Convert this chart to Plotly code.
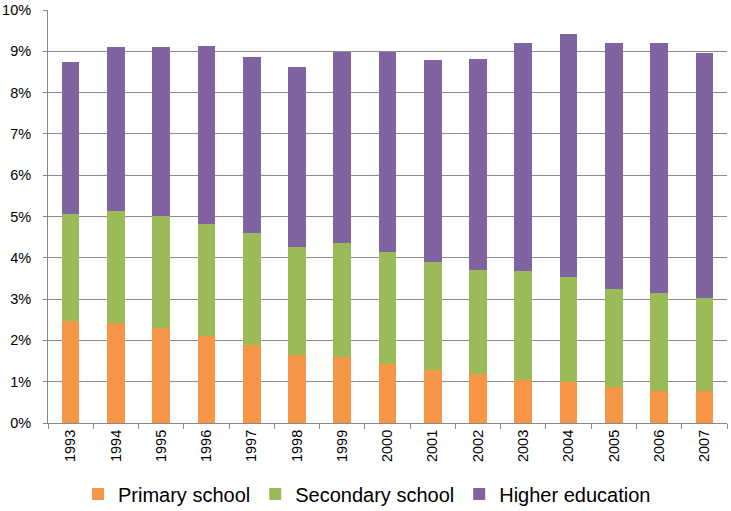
import plotly.graph_objects as go

years = ["1993", "1994", "1995", "1996", "1997", "1998", "1999", "2000",
         "2001", "2002", "2003", "2004", "2005", "2006", "2007"]
primary = [2.46, 2.42, 2.29, 2.11, 1.88, 1.64, 1.60, 1.44, 1.28, 1.18, 1.05, 0.99, 0.87, 0.78, 0.77]
secondary = [2.60, 2.72, 2.73, 2.72, 2.72, 2.63, 2.77, 2.71, 2.61, 2.53, 2.62, 2.54, 2.38, 2.37, 2.25]
higher = [3.68, 3.96, 4.08, 4.29, 4.27, 4.36, 4.62, 4.84, 4.91, 5.10, 5.52, 5.89, 5.96, 6.04, 5.94]

series = [("Primary school", primary, "#F79646"),
          ("Secondary school", secondary, "#9BBB59"),
          ("Higher education", higher, "#8064A2")]

fig = go.Figure()
for name, vals, col in series:
    fig.add_trace(go.Bar(x=years, y=vals, name=name, marker_color=col,
                         marker_line_width=0))

font = "Liberation Sans, Arial, sans-serif"
fig.update_layout(
    barmode="stack",
    bargap=0.61,
    width=731, height=511,
    margin=dict(l=48, r=4, t=10, b=88, autoexpand=False),
    paper_bgcolor="white", plot_bgcolor="white",
    font=dict(family=font, color="#000000"),
    legend=dict(orientation="h", xref="container", yref="container",
                x=0.502, xanchor="center", y=0.0333, yanchor="middle",
                font=dict(size=20, family=font), itemwidth=30, traceorder="normal"),
)
fig.update_xaxes(
    type="category", tickangle=-90, tickfont=dict(size=14.5),
    showline=True, linecolor="#888888", linewidth=1,
    ticks="outside", tickson="boundaries", ticklen=5, tickcolor="#888888",
    showgrid=False, automargin=False,
)
fig.update_yaxes(
    range=[0, 10], dtick=1, ticksuffix="%", tickfont=dict(size=14.5),
    showgrid=True, gridcolor="#8c8c8c", gridwidth=1,
    showline=True, linecolor="#888888", linewidth=1,
    ticks="outside", ticklen=4, tickcolor="#888888",
    ticklabelstandoff=9, ticklabeloverflow="allow",
    zeroline=False, automargin=False,
)
fig.write_html("out.html", config={"displayModeBar": False},
               post_script="document.body.style.margin='0';document.body.style.overflow='hidden';")
